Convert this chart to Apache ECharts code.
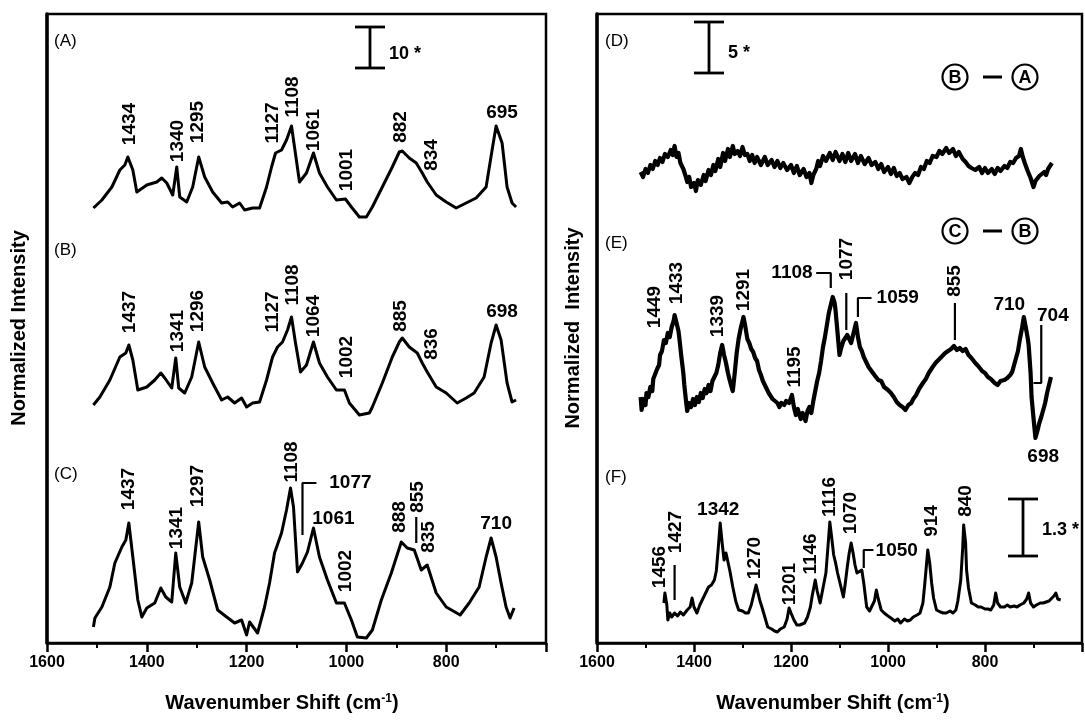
<!DOCTYPE html>
<html>
<head>
<meta charset="utf-8">
<script src="https://cdn.jsdelivr.net/npm/echarts@6/dist/echarts.min.js"></script>
<style>html,body{margin:0;padding:0;background:#fff;}#chart{width:1085px;height:726px;}</style>
</head>
<body>
<div id="chart"></div>
<script>
// x tick labels (wavenumber shift, cm-1)
const xTicks = [1600, 1400, 1200, 1000, 800];

// Spectra: [wavenumber, intensity (arb. units, stacked)]
const specA = [[1507,435],[1490,443],[1470,456],[1454,473],[1444,478],[1438,486],[1428,473],[1420,451],[1400,458],[1380,461],[1370,465],[1360,460],[1348,448],[1340,476],[1334,446],[1320,441],[1308,456],[1296,486],[1284,466],[1268,451],[1250,440],[1238,441],[1228,436],[1214,440],[1204,433],[1188,435],[1174,435],[1160,456],[1150,476],[1142,490],[1130,493],[1120,503],[1110,517],[1104,496],[1094,461],[1080,470],[1066,490],[1054,470],[1038,456],[1020,443],[1002,444],[990,436],[974,426],[960,426],[948,436],[928,456],[908,476],[894,491],[888,492],[874,485],[860,480],[848,470],[838,461],[820,448],[800,441],[780,435],[760,440],[740,445],[720,456],[708,493],[700,517],[688,500],[678,456],[668,440],[660,436]];

const specB = [[1507,238],[1494,246],[1474,263],[1454,286],[1442,290],[1436,298],[1428,283],[1418,253],[1400,256],[1384,263],[1372,270],[1364,265],[1350,255],[1342,285],[1336,255],[1324,250],[1310,266],[1296,301],[1284,276],[1268,260],[1250,243],[1238,246],[1224,240],[1210,245],[1200,236],[1188,240],[1174,241],[1160,263],[1148,286],[1138,296],[1128,301],[1118,313],[1110,326],[1102,300],[1092,271],[1080,278],[1066,301],[1054,280],[1038,266],[1020,253],[1004,253],[994,240],[974,228],[954,230],[948,236],[928,260],[908,286],[894,301],[888,305],[874,296],[858,290],[848,280],[838,271],[820,256],[800,250],[778,240],[760,245],[744,250],[724,266],[710,300],[700,318],[690,303],[678,260],[668,241],[660,243]];

const specC = [[1507,16],[1504,25],[1490,36],[1474,56],[1464,80],[1450,96],[1442,103],[1436,120],[1428,86],[1418,43],[1410,26],[1400,35],[1384,40],[1372,55],[1362,46],[1350,41],[1342,90],[1334,56],[1322,40],[1310,60],[1296,121],[1288,86],[1274,63],[1258,33],[1240,26],[1224,20],[1210,23],[1200,8],[1194,21],[1178,10],[1164,36],[1154,60],[1144,90],[1130,110],[1120,133],[1112,155],[1106,136],[1098,71],[1088,80],[1078,91],[1066,115],[1054,86],[1038,63],[1020,40],[1004,40],[990,23],[978,6],[960,5],[948,13],[930,43],[910,70],[890,101],[878,95],[864,93],[850,73],[838,78],[820,50],[800,36],[772,28],[754,40],[734,56],[720,86],[710,105],[700,86],[690,60],[680,36],[672,25],[664,35]];

const specD = [[1510,471],[1505,466],[1500,474],[1495,470],[1490,478],[1485,474],[1480,482],[1475,478],[1470,485],[1465,481],[1460,489],[1454,486],[1448,493],[1444,488],[1440,497],[1436,486],[1432,490],[1428,480],[1422,474],[1418,468],[1414,461],[1410,466],[1406,456],[1400,460],[1396,452],[1392,463],[1386,458],[1380,468],[1376,462],[1370,473],[1365,468],[1360,478],[1356,472],[1350,484],[1346,476],[1340,490],[1336,482],[1330,494],[1326,486],[1320,497],[1316,489],[1310,492],[1305,487],[1300,496],[1295,488],[1290,489],[1285,482],[1280,488],[1275,480],[1270,486],[1262,478],[1254,486],[1248,478],[1240,483],[1234,476],[1228,482],[1222,475],[1216,480],[1208,473],[1200,478],[1194,470],[1188,477],[1182,468],[1174,474],[1168,466],[1162,470],[1158,460],[1154,468],[1148,474],[1144,482],[1140,477],[1134,487],[1128,482],[1120,490],[1114,483],[1108,491],[1100,482],[1094,489],[1088,481],[1082,490],[1076,482],[1068,489],[1062,480],[1056,487],[1048,479],[1040,485],[1034,478],[1026,481],[1020,474],[1014,479],[1008,471],[1000,476],[994,469],[988,475],[982,467],[976,470],[970,464],[962,466],[956,460],[950,466],[944,470],[938,468],[932,476],[926,474],[920,482],[914,480],[908,487],[900,486],[894,492],[888,489],[880,495],[874,490],[866,494],[860,487],[854,491],[846,484],[840,481],[834,477],[828,475],[820,473],[812,476],[806,470],[800,475],[794,470],[786,474],[780,469],[774,475],[768,472],[760,477],[754,475],[748,481],[742,480],[736,485],[730,487],[726,494],[722,486],[718,480],[712,472],[706,465],[700,456],[696,462],[692,460],[688,467],[684,465],[678,471],[674,468],[670,474],[666,476],[662,480]];

const specE = [[1510,246],[1508,233],[1504,244],[1500,238],[1498,250],[1494,246],[1490,256],[1486,252],[1484,264],[1480,262],[1476,274],[1472,278],[1470,288],[1466,292],[1462,303],[1458,300],[1454,310],[1450,306],[1446,316],[1442,322],[1440,328],[1436,320],[1432,312],[1430,304],[1426,286],[1422,270],[1420,258],[1416,240],[1414,232],[1410,240],[1406,236],[1402,244],[1398,238],[1394,246],[1390,241],[1386,250],[1382,245],[1378,254],[1374,250],[1370,258],[1366,252],[1362,262],[1358,260],[1354,270],[1350,278],[1346,290],[1342,298],[1338,288],[1334,280],[1330,270],[1326,262],[1322,255],[1320,252],[1316,270],[1312,290],[1308,304],[1304,314],[1300,322],[1298,326],[1294,316],[1290,304],[1286,300],[1282,294],[1278,291],[1274,285],[1270,282],[1266,273],[1262,268],[1258,262],[1254,258],[1250,254],[1246,250],[1242,248],[1238,244],[1234,242],[1228,240],[1224,236],[1220,240],[1214,238],[1210,242],[1204,240],[1198,248],[1194,236],[1190,228],[1186,234],[1180,224],[1176,230],[1170,222],[1166,232],[1162,236],[1158,230],[1154,242],[1150,252],[1146,262],[1142,270],[1138,282],[1134,296],[1130,306],[1126,318],[1122,330],[1118,338],[1114,346],[1110,340],[1108,332],[1104,310],[1100,288],[1096,296],[1092,302],[1088,300],[1084,308],[1080,304],[1076,300],[1072,308],[1068,316],[1066,320],[1062,306],[1058,296],[1054,292],[1050,286],[1046,282],[1040,276],[1034,272],[1028,268],[1020,263],[1014,262],[1008,256],[1000,253],[994,250],[988,246],[982,241],[976,238],[970,236],[964,233],[958,238],[952,240],[948,244],[942,248],[936,254],[928,260],[922,264],[916,270],[908,276],[902,280],[896,283],[888,287],[882,290],[876,292],[870,294],[864,297],[858,293],[852,295],[846,292],[840,294],[834,288],[828,285],[820,280],[814,277],[806,272],[800,270],[794,266],[788,264],[780,260],[774,258],[768,262],[760,263],[754,265],[748,268],[744,271],[740,278],[736,285],[732,292],[728,304],[724,314],[720,326],[716,316],[712,305],[710,298],[706,270],[704,246],[700,225],[696,205],[692,212],[688,220],[684,226],[680,233],[676,240],[672,250],[668,258],[664,266]];

const specF = [[1462,40],[1460,50],[1456,38],[1454,23],[1450,30],[1446,26],[1440,30],[1434,27],[1428,31],[1422,28],[1414,33],[1408,36],[1404,45],[1400,36],[1394,30],[1388,38],[1380,46],[1376,50],[1370,56],[1364,58],[1358,63],[1354,72],[1350,95],[1346,120],[1342,100],[1338,83],[1334,90],[1330,88],[1326,72],[1320,56],[1314,42],[1308,33],[1300,32],[1294,30],[1288,30],[1282,38],[1276,50],[1272,58],[1268,50],[1264,42],[1260,36],[1254,26],[1248,16],[1240,14],[1234,12],[1228,11],[1222,14],[1214,16],[1208,24],[1204,35],[1200,30],[1194,23],[1188,18],[1182,18],[1178,16],[1172,20],[1166,26],[1160,36],[1156,48],[1150,63],[1146,52],[1140,40],[1134,55],[1128,70],[1124,95],[1120,121],[1116,105],[1112,88],[1108,80],[1104,70],[1098,58],[1092,46],[1088,60],[1084,76],[1080,90],[1076,100],[1072,90],[1068,78],[1064,70],[1060,72],[1054,73],[1050,60],[1046,44],[1044,36],[1038,32],[1034,33],[1028,42],[1024,53],[1020,44],[1014,33],[1008,30],[1000,27],[994,25],[986,22],[980,24],[974,20],[966,24],[960,22],[954,23],[948,26],[940,28],[934,30],[928,40],[924,60],[920,82],[918,93],[914,80],[910,60],[906,45],[900,33],[892,31],[886,30],[880,30],[872,32],[866,30],[860,33],[856,42],[852,56],[850,63],[846,95],[844,118],[840,100],[838,73],[834,55],[828,40],[820,38],[814,36],[808,36],[800,34],[794,34],[788,33],[782,38],[778,50],[774,40],[768,36],[760,36],[754,38],[748,36],[740,37],[734,36],[728,38],[720,40],[714,44],[710,50],[706,40],[700,36],[694,38],[686,40],[680,40],[674,41],[668,42],[664,43],[658,47],[654,50],[650,44],[644,43]];

// Peak annotations: [wavenumber, intensity, text]
const peaksVertLeft = [[1434,519,'1434'],[1338,502,'1340'],[1298,521,'1295'],[1148,520,'1127'],[1108,546,'1108'],[1066,513,'1061'],[1000,473,'1001'],[892,516,'882'],[828,488,'834'],
[1434,331,'1437'],[1338,312,'1341'],[1298,332,'1296'],[1148,331,'1127'],[1108,358,'1108'],[1066,327,'1064'],[1000,286,'1002'],[892,327,'885'],[828,299,'836'],
[1436,154,'1437'],[1340,115,'1341'],[1298,157,'1297'],[1110,181,'1108'],[1002,72,'1002'],[894,126,'888'],[856,146,'855'],[834,106,'835']];
const peaksHorizLeft = [[688,530,'695'],[688,331,'698'],[992,160,'1077'],[1026,124,'1061'],[700,119,'710']];
const peaksVertRight = [[1480,336,'1449'],[1436,360,'1433'],[1350,327,'1339'],[1298,353,'1291'],[1192,276,'1195'],[1086,384,'1077'],[862,362,'855'],
[1470,76,'1456'],[1438,111,'1427'],[1274,85,'1270'],[1202,59,'1201'],[1160,89,'1146'],[1120,146,'1116'],[1076,130,'1070'],[910,122,'914'],[840,142,'840']];
const peaksHorizRight = [[1198,370,'1108'],[980,345,'1059'],[750,338,'710'],[660,327,'704'],[680,186,'698'],[1350,133,'1342'],[982,92,'1050']];

// Leader lines: polylines in [wavenumber, intensity]
const leadersLeft = [[[1060,160],[1088,160],[1088,108]], [[860,126],[860,100]]];
const leadersRight = [[[1148,370],[1118,370],[1118,355]], [[1086,350],[1086,313]], [[1034,345],[1062,345],[1062,326]], [[862,340],[862,303]], [[684,318],[684,260],[700,260]], [[1440,78],[1440,43]], [[1030,93],[1050,93],[1050,75]]];

const panelLabels = ['(A)','(B)','(C)','(D)','(E)','(F)'];

const FONT = 'Liberation Sans, Arial, Helvetica, sans-serif';
const chart = echarts.init(document.getElementById('chart'), null, {renderer:'canvas'});

function xAxisCfg(gi){
  return {
    gridIndex: gi, type:'value', min:600, max:1600, interval:200, inverse:true,
    axisLine:{show:true, onZero:false, lineStyle:{color:'#000', width:2.5}},
    axisTick:{show:true, length:9, lineStyle:{color:'#000', width:2.5}},
    minorTick:{show:true, splitNumber:2, length:5, lineStyle:{color:'#000', width:2}},
    splitLine:{show:false}, minorSplitLine:{show:false},
    axisLabel:{margin:12, color:'#000', fontFamily:FONT, fontWeight:'bold', fontSize:16,
      formatter: v => xTicks.indexOf(v) >= 0 ? String(v) : ''}
  };
}
function yAxisCfg(gi){
  return {gridIndex:gi, type:'value', min:0, max:629,
    axisLine:{show:true, lineStyle:{color:'#000', width:3.5}},
    axisTick:{show:false}, axisLabel:{show:false}, splitLine:{show:false}};
}
function spec(data, gi, w){
  return {type:'line', xAxisIndex:gi, yAxisIndex:gi, data:data, showSymbol:false, symbol:'none',
    lineStyle:{color:'#000', width:w, join:'round'}, silent:true, animation:false, z:3};
}
function labels(data, gi, rot){
  return {type:'scatter', xAxisIndex:gi, yAxisIndex:gi, data:data, symbolSize:1,
    itemStyle:{color:'rgba(255,255,255,0)'}, silent:true, animation:false, z:5,
    label:{show:true, position:'inside', rotate:rot, color:'#000', textBorderWidth:0, opacity:1,
      fontFamily:FONT, fontWeight:'bold', fontSize:19,
      formatter: p => p.data[2]}};
}
function leader(poly, gi){
  return {type:'line', xAxisIndex:gi, yAxisIndex:gi, data:poly, showSymbol:false, symbol:'none',
    lineStyle:{color:'#000', width:2.2}, silent:true, animation:false, z:4};
}

const series = [
  spec(specA,0,3), spec(specB,0,3), spec(specC,0,3),
  spec(specD,1,4.2), spec(specE,1,4.2), spec(specF,1,3)
];
series.push(labels(peaksVertLeft,0,90), labels(peaksHorizLeft,0,0),
  labels(peaksVertRight,1,90), labels(peaksHorizRight,1,0));
leadersLeft.forEach(p => series.push(leader(p,0)));
leadersRight.forEach(p => series.push(leader(p,1)));

function bar(x, y1, y2, w){
  return [
    {type:'line', shape:{x1:x-w, y1:y1, x2:x+w, y2:y1}, style:{stroke:'#000', lineWidth:2.8}},
    {type:'line', shape:{x1:x-w, y1:y2, x2:x+w, y2:y2}, style:{stroke:'#000', lineWidth:2.8}},
    {type:'line', shape:{x1:x, y1:y1, x2:x, y2:y2}, style:{stroke:'#000', lineWidth:2.8}}
  ];
}
function txt(x, y, s, opt){
  return {type:'text', x:x, y:y, style:Object.assign({text:s, fill:'#000', font:'17px ' + FONT, textAlign:'left', textVerticalAlign:'middle'}, opt||{})};
}
function circled(cx, cy, a, b){
  return [
    {type:'circle', shape:{cx:cx, cy:cy, r:12.5}, style:{fill:'none', stroke:'#000', lineWidth:2.2}},
    txt(cx, cy+1, a, {font:'bold 18px ' + FONT, textAlign:'center'}),
    {type:'line', shape:{x1:cx+28, y1:cy, x2:cx+47, y2:cy}, style:{stroke:'#000', lineWidth:3}},
    {type:'circle', shape:{cx:cx+70, cy:cy, r:12.5}, style:{fill:'none', stroke:'#000', lineWidth:2.2}},
    txt(cx+70, cy+1, b, {font:'bold 18px ' + FONT, textAlign:'center'})
  ];
}
const titleStyle = {font:'bold 20px ' + FONT, textAlign:'center', textVerticalAlign:'middle', rich:{s:{fontSize:12, fontWeight:'bold', fontFamily:FONT, verticalAlign:'top', lineHeight:20}}};
const graphics = [].concat(
  bar(370, 27, 68, 15), [txt(389, 54, '10 *', {font:'bold 18px ' + FONT})],
  bar(709, 22, 73, 15), [txt(728, 53, '5 *', {font:'bold 18px ' + FONT})],
  bar(1023, 499, 556, 15), [txt(1042, 530, '1.3 *', {font:'bold 18px ' + FONT})],
  circled(955, 77, 'B', 'A'), circled(955, 231, 'C', 'B'),
  [
    txt(54, 41, panelLabels[0]), txt(54, 250, panelLabels[1]), txt(54, 474, panelLabels[2]),
    txt(605, 41, panelLabels[3]), txt(605, 243, panelLabels[4]), txt(605, 477, panelLabels[5]),
    {type:'text', x:19, y:328, rotation:Math.PI/2, style:{text:'Normalized Intensity', fill:'#000', font:'bold 20px ' + FONT, textAlign:'center', textVerticalAlign:'middle'}},
    {type:'text', x:573, y:328, rotation:Math.PI/2, style:{text:'Normalized  Intensity', fill:'#000', font:'bold 20px ' + FONT, textAlign:'center', textVerticalAlign:'middle'}},
    {type:'text', x:282, y:703, style:Object.assign({text:'Wavenumber Shift (cm{s|-1})', fill:'#000'}, titleStyle)},
    {type:'text', x:833, y:703, style:Object.assign({text:'Wavenumber Shift (cm{s|-1})', fill:'#000'}, titleStyle)}
  ]
);

chart.setOption({
  animation:false,
  backgroundColor:'#fff',
  grid:[
    {left:47, top:14, width:499, height:629, show:true, borderColor:'#000', borderWidth:2.5, backgroundColor:'transparent'},
    {left:597, top:14, width:500, height:629, show:true, borderColor:'#000', borderWidth:2.5, backgroundColor:'transparent'}
  ],
  xAxis:[xAxisCfg(0), xAxisCfg(1)],
  yAxis:[yAxisCfg(0), yAxisCfg(1)],
  series: series,
  graphic: graphics.map(g => Object.assign({silent:true, z:10}, g))
});
</script>
</body>
</html>
